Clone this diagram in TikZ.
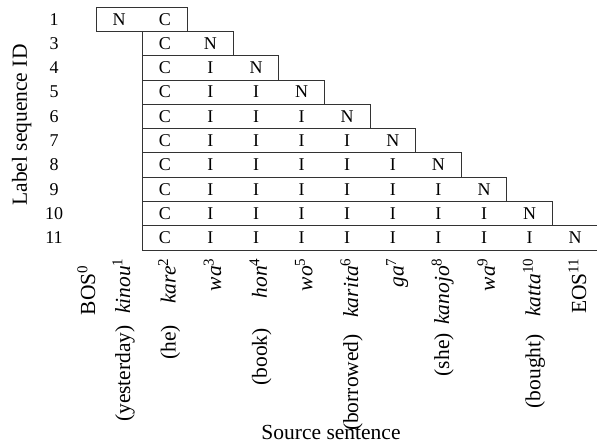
\documentclass[tikz,border=0pt]{standalone}
\usepackage{fontspec}
\setmainfont{Liberation Serif}
\begin{document}
\begin{tikzpicture}[x=1pt,y=-1pt,
  gridline/.style={draw=black!80, line width=0.75pt},
  cell/.style={inner sep=0pt, font=\fontsize{18}{20}\selectfont},
  rowlab/.style={inner sep=0pt, font=\fontsize{18}{20}\selectfont},
  word/.style={rotate=90, anchor=base east, inner sep=0pt, font=\fontsize{21.5}{24}\selectfont},
  axistitle/.style={inner sep=0pt, anchor=base, font=\fontsize{21.5}{24}\selectfont}]
\useasboundingbox (0,0) rectangle (597,445);

% label sequences: one box per row, one cell per source position
\foreach \r [count=\i from 0] in {1,3,4,5,6,7,8,9,10,11} {
  \pgfmathsetmacro{\top}{7+\i*24.3}
  \pgfmathsetmacro{\mid}{\top+12.15}
  \node[rowlab] (row-\r) at (54,\mid) {\r};
  \ifnum\r=1
    \draw[gridline] (96.4,\top) rectangle (187.6,\top+24.3);
    \node[cell] (c-1-1) at (119.2,\mid) {N};
    \node[cell] (c-1-2) at (164.8,\mid) {C};
  \else
    \draw[gridline] (142,\top) rectangle ({142+(\r-1)*45.6},\top+24.3);
    \foreach \k in {2,...,11} {
      \ifnum\k>\r\relax\else
        \node[cell] (c-\r-\k) at ({164.8+(\k-2)*45.6},\mid)
          {\ifnum\k=2 C\else\ifnum\k=\r N\else I\fi\fi};
      \fi
    }
  \fi
}

% source tokens
\node[word] (w0) at (95,265) {BOS\textsuperscript{0}};
\foreach \k/\w in {1/kinou,2/kare,3/wa,4/hon,5/wo,6/karita,7/ga,8/kanojo,9/wa,10/katta} {
  \node[word] (w\k) at ({130+(\k-1)*45.6},258) {\textit{\w}\textsuperscript{\k}};
}
\node[word] (w11) at (586,258) {EOS\textsuperscript{11}};

% English glosses
\node[word] (g1) at (130,325) {(yesterday)};
\node[word] (g2) at (175.6,325) {(he)};
\node[word] (g4) at (266.8,328) {(book)};
\node[word] (g6) at (358,334) {(borrowed)};
\node[word] (g8) at (449.2,333) {(she)};
\node[word] (g10) at (540.4,334) {(bought)};

% axis titles
\node[axistitle, rotate=90] (ytitle) at (27,125) {Label sequence ID};
\node[axistitle] (xtitle) at (331,439.5) {Source sentence};
\end{tikzpicture}
\end{document}
